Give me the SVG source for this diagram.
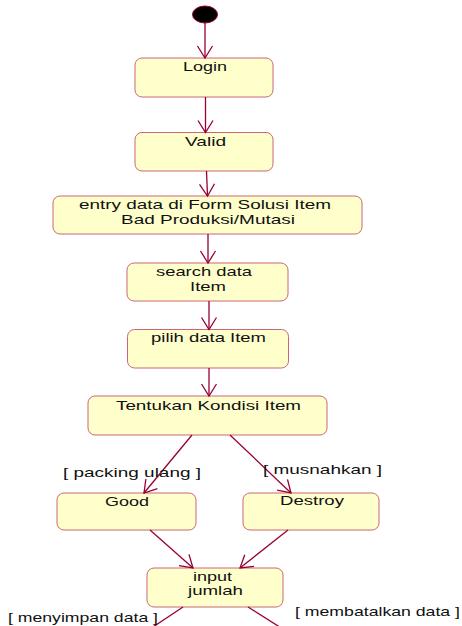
<svg xmlns="http://www.w3.org/2000/svg" width="462" height="626" viewBox="0 0 462 626">
<defs>
<style>
.node rect{fill:#FFFFCC;stroke:#CC6677;stroke-width:1}
text{font-family:"Liberation Sans",Arial,sans-serif;font-size:13px;fill:#111}
.conn line{stroke:#990033;stroke-width:1.3;fill:none}
</style>
<marker id="arr" markerUnits="userSpaceOnUse" markerWidth="20" markerHeight="20" viewBox="-14 -10 16 20" refX="0" refY="0" orient="auto">
<path d="M-12,-7.5 L0,0 L-12,7.5" fill="none" stroke="#990033" stroke-width="1.3"/>
</marker>
</defs>
<rect width="462" height="626" fill="#fff"/>
<g id="start"><ellipse cx="205" cy="14.5" rx="12.5" ry="8.5" fill="#000" stroke="#990033" stroke-width="1"/></g>
<g id="login" class="node"><rect x="135" y="58" width="138" height="39" rx="7"/><text x="183" y="71" textLength="44" lengthAdjust="spacingAndGlyphs">Login</text></g>
<g id="valid" class="node"><rect x="135" y="132.5" width="138" height="38.5" rx="7"/><text x="185" y="146" textLength="41" lengthAdjust="spacingAndGlyphs">Valid</text></g>
<g id="entry" class="node"><rect x="53" y="196" width="309" height="38" rx="7"/><text x="79" y="209" textLength="252" lengthAdjust="spacingAndGlyphs">entry data di Form Solusi Item</text><text x="121" y="224" textLength="174" lengthAdjust="spacingAndGlyphs">Bad Produksi/Mutasi</text></g>
<g id="search" class="node"><rect x="127" y="263" width="161" height="38" rx="7"/><text x="156" y="276" textLength="96" lengthAdjust="spacingAndGlyphs">search data</text><text x="190" y="290.5" textLength="36" lengthAdjust="spacingAndGlyphs">Item</text></g>
<g id="pilih" class="node"><rect x="127.5" y="329.5" width="161" height="38.5" rx="7"/><text x="151" y="342" textLength="115" lengthAdjust="spacingAndGlyphs">pilih data Item</text></g>
<g id="tentukan" class="node"><rect x="88" y="396" width="239" height="39" rx="7"/><text x="116" y="410" textLength="185" lengthAdjust="spacingAndGlyphs">Tentukan Kondisi Item</text></g>
<g id="good" class="node"><rect x="57" y="493" width="139" height="37" rx="7"/><text x="105" y="506" textLength="44" lengthAdjust="spacingAndGlyphs">Good</text></g>
<g id="destroy" class="node"><rect x="243" y="493" width="136" height="37" rx="7"/><text x="280" y="505" textLength="64" lengthAdjust="spacingAndGlyphs">Destroy</text></g>
<g id="input" class="node"><rect x="147" y="568" width="136" height="39" rx="7"/><text x="193" y="580.5" textLength="39" lengthAdjust="spacingAndGlyphs">input</text><text x="188" y="595" textLength="55" lengthAdjust="spacingAndGlyphs">jumlah</text></g>
<g id="connectors" class="conn">
<line x1="205" y1="23" x2="205" y2="58" marker-end="url(#arr)"/>
<line x1="205.5" y1="97" x2="205.5" y2="132.5" marker-end="url(#arr)"/>
<line x1="206.5" y1="171" x2="207.5" y2="196" marker-end="url(#arr)"/>
<line x1="208" y1="234" x2="208" y2="263" marker-end="url(#arr)"/>
<line x1="209" y1="301" x2="209" y2="329.5" marker-end="url(#arr)"/>
<line x1="209" y1="368" x2="209" y2="396" marker-end="url(#arr)"/>
<line x1="192" y1="435" x2="144" y2="493" marker-end="url(#arr)"/>
<line x1="230" y1="435" x2="291" y2="493" marker-end="url(#arr)"/>
<line x1="150" y1="530" x2="193" y2="568" marker-end="url(#arr)"/>
<line x1="288" y1="530" x2="240" y2="568" marker-end="url(#arr)"/>
<line x1="183" y1="607" x2="147" y2="631"/>
<line x1="248" y1="607" x2="286" y2="631"/>
</g>
<g id="labels">
<text x="63" y="476.5" textLength="138" lengthAdjust="spacingAndGlyphs">[ packing ulang ]</text>
<text x="263" y="474" textLength="119" lengthAdjust="spacingAndGlyphs">[ musnahkan ]</text>
<text x="8" y="621.5" textLength="150" lengthAdjust="spacingAndGlyphs">[ menyimpan data ]</text>
<text x="295" y="616" textLength="165" lengthAdjust="spacingAndGlyphs">[ membatalkan data ]</text>
</g>
</svg>
